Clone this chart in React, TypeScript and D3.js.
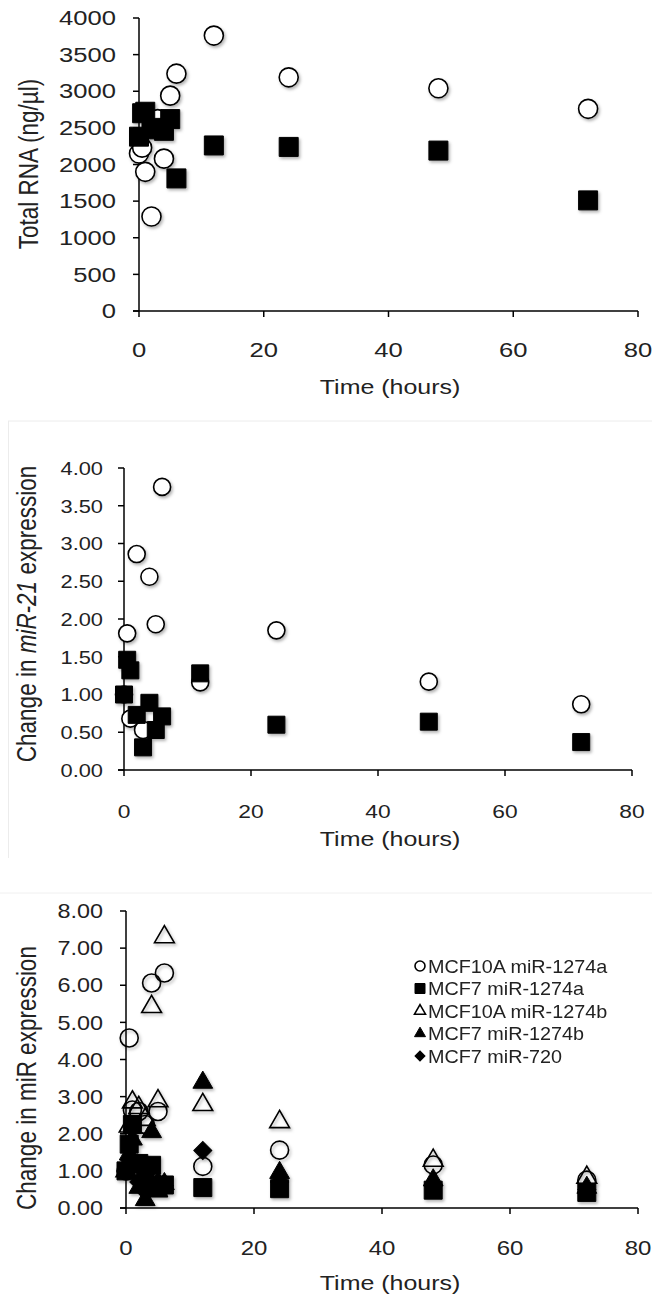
import React from 'react';
import * as d3 from 'd3';

// sampling times (hours), shared by every series
const TIMES = [0, 0.5, 1, 2, 3, 4, 5, 6, 12, 24, 48, 72];

// panel 1: total RNA (ng/ul)
const RNA_MCF10A = [2150, 2230, 1900, 1290, 2620, 2080, 2940, 3240, 3760, 3190, 3040, 2760];
const RNA_MCF7 = [2380, 2700, 2720, 2500, 2480, 2460, 2620, 1810, 2260, 2240, 2190, 1510];

// panel 2: change in miR-21 expression
const MIR21_MCF10A = [1.0, 1.81, 0.68, 2.86, 0.53, 2.56, 1.93, 3.75, 1.16, 1.85, 1.17, 0.87];
const MIR21_MCF7 = [1.0, 1.46, 1.32, 0.73, 0.3, 0.89, 0.53, 0.71, 1.28, 0.6, 0.64, 0.37];

// panel 3: change in miR expression
const MCF10A_1274A = [1.0, 4.58, 2.64, 2.6, 2.25, 6.06, 2.6, 6.33, 1.12, 1.56, 1.16, 0.75];
const MCF7_1274A = [1.0, 1.72, 2.25, 1.2, 0.85, 1.15, 0.55, 0.62, 0.55, 0.52, 0.48, 0.42];
const MCF10A_1274B = [1.0, 2.2, 2.85, 2.7, 2.38, 5.42, 2.88, 7.3, 2.78, 2.32, 1.28, 0.82];
const MCF7_1274B = [1.0, 1.45, 1.85, 0.55, 0.22, 2.05, 0.45, 0.65, 3.38, 0.95, 0.75, 0.55];
const MCF7_720 = [1.0, 1.3, 1.2, 0.7, 0.45, 0.55, 0.7, 0.6, 1.55, 0.7, 0.6, 0.5];

const X_TICKS = [0, 20, 40, 60, 80];
const RNA_TICKS = d3.range(0, 4001, 500);
const MIR21_TICKS = d3.range(0, 4.01, 0.5);
const MIR_TICKS = d3.range(0, 8.01, 1);

const LEGEND = ['MCF10A miR-1274a', 'MCF7 miR-1274a', 'MCF10A miR-1274b', 'MCF7 miR-1274b', 'MCF7 miR-720'];

const FONT = '"Liberation Sans", Arial, sans-serif';

type Shape = 'circle' | 'square' | 'triangle' | 'diamond';

const Marker = ({ shape, x, y, size, filled, openFill }) => {
  let d;
  let rot = 0;
  if (shape === 'circle') d = d3.symbol(d3.symbolCircle, Math.PI * (size / 2) ** 2)();
  else if (shape === 'square') d = d3.symbol(d3.symbolSquare, size * size)();
  else if (shape === 'diamond') {
    d = d3.symbol(d3.symbolSquare, size * size * 0.5)();
    rot = 45;
  } else {
    const side = size * 1.1;
    const yy = side / (2 * Math.sqrt(3));
    d = d3.symbol(d3.symbolTriangle, yy * yy * 3 * Math.sqrt(3))();
  }
  return (
    <path
      d={d}
      transform={`translate(${x},${y}) rotate(${rot})`}
      fill={filled ? '#000' : openFill}
      stroke="#000"
      strokeWidth={filled ? 1 : 1.6}
    />
  );
};

// horizontally stretched text (the source figure is wider than tall)
const SText = ({ x, y, sx, size, anchor, children, style }: any) => (
  <text
    transform={`translate(${x},${y}) scale(${sx},1)`}
    fontSize={size}
    textAnchor={anchor}
    fontFamily={FONT}
    fill="#222"
    style={style}
  >
    {children}
  </text>
);

const Panel = ({ cfg }) => {
  const x = d3.scaleLinear().domain([0, 80]).range([cfg.x0, cfg.x1]);
  const y = d3.scaleLinear().domain([0, cfg.yMax]).range([cfg.y0, cfg.y1]);
  const tick = 6;
  return (
    <g>
      {/* axes */}
      <line x1={cfg.x0} x2={cfg.x0} y1={cfg.y0} y2={cfg.y1} stroke="#000" strokeWidth={1.5} />
      <line x1={cfg.x0 - tick} x2={cfg.x1} y1={cfg.y0} y2={cfg.y0} stroke="#000" strokeWidth={1.5} />
      {cfg.yTicks.map(t => (
        <g key={'y' + t}>
          <line x1={cfg.x0 - tick} x2={cfg.x0} y1={y(t)} y2={y(t)} stroke="#000" strokeWidth={1.5} />
          <SText x={cfg.yLabelX} y={y(t) + cfg.tickSize * 0.36} sx={cfg.yTickSx} size={cfg.tickSize} anchor="end">
            {cfg.fmt(t)}
          </SText>
        </g>
      ))}
      {X_TICKS.map(t => (
        <g key={'x' + t}>
          <line x1={x(t)} x2={x(t)} y1={cfg.y0} y2={cfg.y0 + tick} stroke="#000" strokeWidth={1.5} />
          <SText x={x(t)} y={cfg.xLabelY} sx={cfg.xTickSx} size={cfg.tickSize} anchor="middle">
            {t}
          </SText>
        </g>
      ))}
      <SText x={cfg.xTitleX} y={cfg.xTitleY} sx={1.28} size={19.5} anchor="middle">
        Time (hours)
      </SText>
      <text
        transform={`translate(${cfg.yTitleX},${cfg.yTitleY}) scale(1.2,1) rotate(-90)`}
        fontSize={22.5}
        textAnchor="middle"
        fontFamily={FONT}
        fill="#222"
      >
        {cfg.yTitle}
      </text>
      {/* series */}
      <g filter="url(#shadow)">
        {cfg.series.map((s, i) => (
          <g key={i}>
            {s.values.map((v, j) => (
              <Marker
                key={j}
                shape={s.shape}
                x={x(TIMES[j])}
                y={y(v)}
                size={cfg.markerSize}
                filled={s.filled}
                openFill={cfg.openFill}
              />
            ))}
          </g>
        ))}
      </g>
    </g>
  );
};

const panels = [
  {
    x0: 139, x1: 638, y0: 311, y1: 18, yMax: 4000, yTicks: RNA_TICKS,
    fmt: d => String(d), yLabelX: 116, xLabelY: 357, xTitleX: 390, xTitleY: 394,
    tickSize: 20, yTickSx: 1.28, xTickSx: 1.28, markerSize: 19, openFill: '#fff',
    yTitleX: 38, yTitleY: 164,
    yTitle: 'Total RNA (ng/µl)',
    series: [
      { values: RNA_MCF10A, shape: 'circle', filled: false },
      { values: RNA_MCF7, shape: 'square', filled: true },
    ],
  },
  {
    x0: 124, x1: 632, y0: 770, y1: 468, yMax: 4, yTicks: MIR21_TICKS,
    fmt: d3.format('.2f'), yLabelX: 103, xLabelY: 818, xTitleX: 390, xTitleY: 846,
    tickSize: 19, yTickSx: 1.15, xTickSx: 1.2, markerSize: 17, openFill: '#fff',
    yTitleX: 36, yTitleY: 614,
    yTitle: (
      <>
        Change in <tspan fontStyle="italic">miR-21</tspan> expression
      </>
    ),
    series: [
      { values: MIR21_MCF10A, shape: 'circle', filled: false },
      { values: MIR21_MCF7, shape: 'square', filled: true },
    ],
  },
  {
    x0: 126, x1: 638, y0: 1208, y1: 911, yMax: 8, yTicks: MIR_TICKS,
    fmt: d3.format('.2f'), yLabelX: 103, xLabelY: 1255, xTitleX: 390, xTitleY: 1290,
    tickSize: 20, yTickSx: 1.17, xTickSx: 1.2, markerSize: 18, openFill: 'none',
    yTitleX: 36, yTitleY: 1078,
    yTitle: 'Change in miR expression',
    series: [
      { values: MCF10A_1274A, shape: 'circle', filled: false },
      { values: MCF7_1274A, shape: 'square', filled: true },
      { values: MCF10A_1274B, shape: 'triangle', filled: false },
      { values: MCF7_1274B, shape: 'triangle', filled: true },
      { values: MCF7_720, shape: 'diamond', filled: true },
    ],
  },
];

const legendShapes: { shape: Shape; filled: boolean }[] = [
  { shape: 'circle', filled: false },
  { shape: 'square', filled: true },
  { shape: 'triangle', filled: false },
  { shape: 'triangle', filled: true },
  { shape: 'diamond', filled: true },
];

export default function App() {
  return (
    <svg
      width={652}
      height={1295}
      style={{ position: 'absolute', left: 0, top: 0, background: '#fff' }}
    >
      <defs>
        <filter id="shadow" x="-20%" y="-20%" width="140%" height="140%">
          <feDropShadow dx={1.5} dy={2} stdDeviation={1.5} floodColor="#000" floodOpacity={0.3} />
        </filter>
      </defs>
      <rect width={652} height={1295} fill="#fff" />
      {/* faint frames of the pasted panels */}
      <line x1={8} x2={652} y1={421} y2={421} stroke="#ececec" />
      <line x1={8.5} x2={8.5} y1={421} y2={858} stroke="#ececec" />
      <line x1={0} x2={652} y1={893} y2={893} stroke="#f0f0f0" />
      {panels.map((p, i) => (
        <Panel key={i} cfg={p} />
      ))}
      <g>
        {LEGEND.map((name, i) => (
          <g key={name}>
            <Marker
              shape={legendShapes[i].shape}
              x={420}
              y={966 + i * 22.5}
              size={10}
              filled={legendShapes[i].filled}
              openFill="#fff"
            />
            <SText x={428} y={972.5 + i * 22.5} sx={1.1} size={18} anchor="start">
              {name}
            </SText>
          </g>
        ))}
      </g>
    </svg>
  );
}
